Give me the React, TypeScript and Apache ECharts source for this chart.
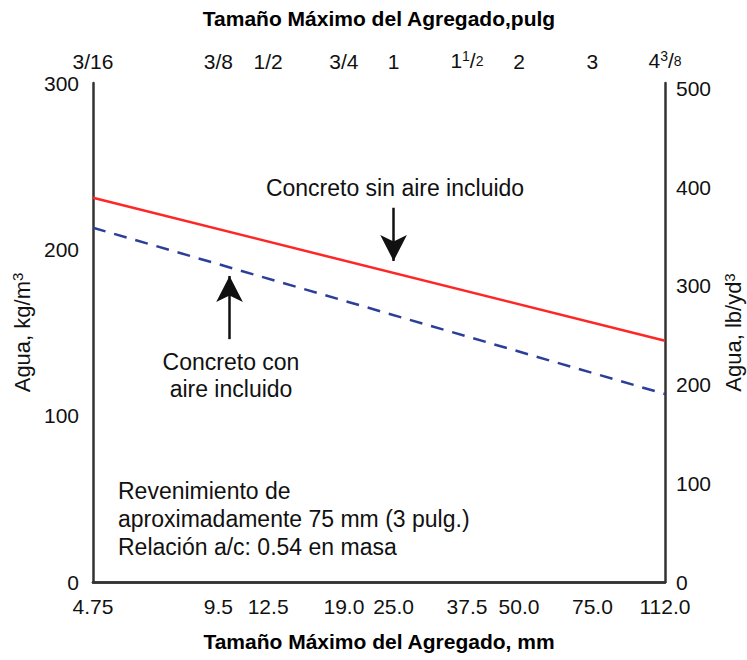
import React, { useEffect, useRef } from "react";
import * as echarts from "echarts";

// Aggregate sizes (mm) and their labels
const mmTicks = [4.75, 9.5, 12.5, 19, 25, 37.5, 50, 75, 112];
const mmLabels = ["4.75", "9.5", "12.5", "19.0", "25.0", "37.5", "50.0", "75.0", "112.0"];
const inchLabels = ["3/16", "3/8", "1/2", "3/4", "1", "1{sup|1}/{sub|2}", "2", "3", "4{sup|3}/{sub|8}"];

// Water content, kg/m3, at the smallest and largest aggregate size
const sizeEnds = [4.75, 112];
const nonAirWater = [231, 145];
const airWater = [213, 113];

// Axis ticks
const kgTicks = [0, 100, 200, 300];
const lbTicks = [0, 100, 200, 300, 400, 500];
const KG_TO_LB = 1.6856;

// Arrow annotations: [size, fromWater, toWater]
const nonAirArrow = [25, 225, 193];
const airArrow = [10.1, 146, 184];

const FONT = "'Liberation Sans', Arial, Helvetica, sans-serif";
const TXT = "#111";

function nearestIdx(v: number): number {
  let best = 0;
  let bd = Infinity;
  mmTicks.forEach((t, i) => {
    const d = Math.abs(Math.log(t) - Math.log(v));
    if (d < bd) {
      bd = d;
      best = i;
    }
  });
  return best;
}

export default function App() {
  const ref = useRef<HTMLDivElement>(null);
  useEffect(() => {
    if (!ref.current) return;
    document.body.style.margin = "0";
    const chart = echarts.init(ref.current, null, { renderer: "svg" });
    const axisLine = { show: true, lineStyle: { color: "#333", width: 2.5 } };
    const supStyle = { fontSize: 14, verticalAlign: "top", color: TXT, fontFamily: FONT, padding: [0, 0, 9, 0] };
    const option: any = {
      animation: false,
      backgroundColor: "#fff",
      grid: { left: 93, right: 82, top: 83, bottom: 78, containLabel: false, outerBoundsMode: "none" },
      xAxis: [
        {
          type: "log",
          logBase: 10,
          position: "bottom",
          min: mmTicks[0],
          max: mmTicks[mmTicks.length - 1],
          axisLine,
          axisTick: { show: false },
          splitLine: { show: false },
          axisLabel: {
            customValues: mmTicks,
            formatter: (v: number) => mmLabels[nearestIdx(v)],
            color: TXT,
            fontSize: 21,
            fontFamily: FONT,
            margin: 14,
          },
          name: "Tamaño Máximo del Agregado, mm",
          nameLocation: "middle",
          nameGap: 49,
          nameTextStyle: { color: "#000", fontSize: 21, fontWeight: "bold", fontFamily: FONT },
        },
        {
          type: "log",
          logBase: 10,
          position: "top",
          min: mmTicks[0],
          max: mmTicks[mmTicks.length - 1],
          axisLine,
          axisTick: { show: false },
          splitLine: { show: false },
          axisLabel: {
            customValues: mmTicks,
            formatter: (v: number) => inchLabels[nearestIdx(v)],
            color: TXT,
            fontSize: 21,
            fontFamily: FONT,
            margin: 11,
            rich: {
              sup: supStyle,
              sub: { fontSize: 14, color: TXT, fontFamily: FONT },
            },
          },
          name: "Tamaño Máximo del Agregado,pulg",
          nameLocation: "middle",
          nameGap: 54,
          nameTextStyle: { color: "#000", fontSize: 21, fontWeight: "bold", fontFamily: FONT },
        },
      ],
      yAxis: [
        {
          type: "value",
          position: "left",
          min: kgTicks[0],
          max: kgTicks[kgTicks.length - 1],
          interval: 100,
          axisLine,
          axisTick: { show: false },
          splitLine: { show: false },
          axisLabel: { color: TXT, fontSize: 21, fontFamily: FONT, margin: 14 },
          name: "Agua, kg/m{sup|3}",
          nameLocation: "middle",
          nameGap: 59,
          nameRotate: 90,
          nameTextStyle: {
            color: TXT,
            fontSize: 22,
            fontFamily: FONT,
            rich: { sup: { fontSize: 15, fontFamily: FONT, color: TXT, padding: [0, 0, 9, 0] } },
          },
        },
        {
          type: "value",
          position: "right",
          min: lbTicks[0],
          max: kgTicks[kgTicks.length - 1] * KG_TO_LB,
          interval: 100,
          axisLine,
          axisTick: { show: false },
          splitLine: { show: false },
          axisLabel: {
            color: TXT,
            fontSize: 21,
            fontFamily: FONT,
            margin: 11,
            formatter: (v: number) =>
              lbTicks.indexOf(Math.round(v)) >= 0 && Math.abs(v - Math.round(v)) < 1e-6 ? String(Math.round(v)) : "",
          },
          name: "Agua, lb/yd{sup|3}",
          nameLocation: "middle",
          nameGap: 40,
          nameRotate: 90,
          nameTextStyle: {
            color: TXT,
            fontSize: 22,
            fontFamily: FONT,
            rich: { sup: { fontSize: 15, fontFamily: FONT, color: TXT, padding: [0, 0, 9, 0] } },
          },
        },
      ],
      series: [
        {
          name: "Concreto sin aire incluido",
          type: "line",
          xAxisIndex: 0,
          yAxisIndex: 0,
          symbol: "none",
          data: sizeEnds.map((s, i) => [s, nonAirWater[i]]),
          lineStyle: { color: "#ff2626", width: 2.5 },
          markLine: {
            silent: true,
            symbol: ["none", "arrow"],
            symbolSize: [20, 26],
            label: { show: false },
            lineStyle: { color: "#111", width: 2.5, type: "solid" },
            data: [[{ coord: [nonAirArrow[0], nonAirArrow[1]] }, { coord: [nonAirArrow[0], nonAirArrow[2]] }]],
          },
        },
        {
          name: "Concreto con aire incluido",
          type: "line",
          xAxisIndex: 0,
          yAxisIndex: 0,
          symbol: "none",
          data: sizeEnds.map((s, i) => [s, airWater[i]]),
          lineStyle: { color: "#2b3f99", width: 2.5, type: [13, 9] },
          markLine: {
            silent: true,
            symbol: ["none", "arrow"],
            symbolSize: [20, 26],
            label: { show: false },
            lineStyle: { color: "#111", width: 2.5, type: "solid" },
            data: [[{ coord: [airArrow[0], airArrow[1]] }, { coord: [airArrow[0], airArrow[2]] }]],
          },
        },
      ],
      graphic: [
        {
          type: "text",
          x: 395,
          y: 188,
          style: {
            text: "Concreto sin aire incluido",
            fill: TXT,
            font: `23px ${FONT}`,
            textAlign: "center",
            textVerticalAlign: "middle",
          },
        },
        {
          type: "text",
          x: 231,
          y: 375,
          style: {
            text: "Concreto con\naire incluido",
            fill: TXT,
            font: `23px ${FONT}`,
            lineHeight: 27,
            textAlign: "center",
            textVerticalAlign: "middle",
          },
        },
        {
          type: "text",
          x: 118,
          y: 477,
          style: {
            text: "Revenimiento de\naproximadamente 75 mm (3 pulg.)\nRelación a/c: 0.54 en masa",
            fill: TXT,
            font: `23px ${FONT}`,
            lineHeight: 28,
            textAlign: "left",
            textVerticalAlign: "top",
          },
        },
      ],
    };
    chart.setOption(option);
    return () => chart.dispose();
  }, []);
  return <div ref={ref} style={{ width: 747, height: 660 }} />;
}
